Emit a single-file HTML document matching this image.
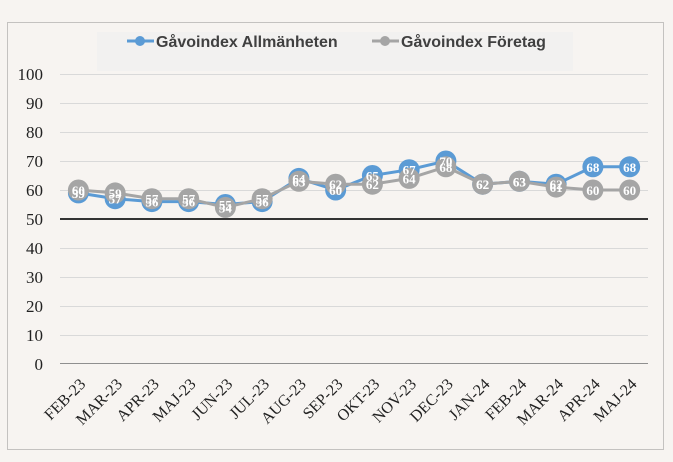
<!DOCTYPE html>
<html><head><meta charset="utf-8"><style>
html,body{margin:0;padding:0;background:#f7f4f1;}
svg{display:block}
</style></head><body>
<svg width="673" height="462" viewBox="0 0 673 462" xmlns="http://www.w3.org/2000/svg">
<rect x="0" y="0" width="673" height="462" fill="#f7f4f1"/>
<rect x="7.5" y="22.5" width="656" height="427" fill="#f7f4f1" stroke="#c4c2c0" stroke-width="1"/>
<rect x="97" y="32" width="476" height="39" fill="#f2f1f0"/>
<g font-family="Liberation Sans, sans-serif" font-weight="bold" font-size="16" fill="#404040">
<line x1="127" y1="41" x2="154" y2="41" stroke="#5b9bd5" stroke-width="3"/>
<circle cx="140" cy="41" r="5" fill="#5b9bd5"/>
<text x="156" y="47">Gåvoindex Allmänheten</text>
<line x1="372" y1="41" x2="399" y2="41" stroke="#a5a5a5" stroke-width="3"/>
<circle cx="385" cy="41" r="5" fill="#a5a5a5"/>
<text x="401" y="47">Gåvoindex Företag</text>
</g>
<g stroke="#d9d9d9" stroke-width="1">
<line x1="60" y1="74.5" x2="648" y2="74.5"/><line x1="60" y1="103.5" x2="648" y2="103.5"/>
<line x1="60" y1="132.5" x2="648" y2="132.5"/><line x1="60" y1="161.5" x2="648" y2="161.5"/>
<line x1="60" y1="190.5" x2="648" y2="190.5"/><line x1="60" y1="248.5" x2="648" y2="248.5"/>
<line x1="60" y1="277.5" x2="648" y2="277.5"/><line x1="60" y1="306.5" x2="648" y2="306.5"/>
<line x1="60" y1="335.5" x2="648" y2="335.5"/>
</g>
<line x1="60" y1="363.5" x2="648" y2="363.5" stroke="#8f8f8f" stroke-width="1"/>
<line x1="60" y1="219" x2="648" y2="219" stroke="#333" stroke-width="2"/>
<g font-family="Liberation Serif, serif" font-size="17" fill="#222" text-anchor="end">
<text x="43" y="80">100</text><text x="43" y="109">90</text><text x="43" y="138">80</text>
<text x="43" y="167">70</text><text x="43" y="196">60</text><text x="43" y="225">50</text>
<text x="43" y="254">40</text><text x="43" y="283">30</text><text x="43" y="312">20</text>
<text x="43" y="341">10</text><text x="43" y="370">0</text>
</g>
<polyline fill="none" stroke="#5b9bd5" stroke-width="3" points="78.4,192.9 115.15,198.7 151.9,201.6 188.65,201.6 225.4,204.5 262.15,201.6 298.9,178.4 335.65,190 372.4,175.5 409.15,169.7 445.9,161 482.65,184.2 519.4,181.3 556.15,184.2 592.9,166.8 629.65,166.8"/>
<g fill="#5b9bd5">
<circle cx="78.4" cy="192.9" r="10.5"/><circle cx="115.15" cy="198.7" r="10.5"/><circle cx="151.9" cy="201.6" r="10.5"/><circle cx="188.65" cy="201.6" r="10.5"/><circle cx="225.4" cy="204.5" r="10.5"/><circle cx="262.15" cy="201.6" r="10.5"/><circle cx="298.9" cy="178.4" r="10.5"/><circle cx="335.65" cy="190" r="10.5"/><circle cx="372.4" cy="175.5" r="10.5"/><circle cx="409.15" cy="169.7" r="10.5"/><circle cx="445.9" cy="161" r="10.5"/><circle cx="482.65" cy="184.2" r="10.5"/><circle cx="519.4" cy="181.3" r="10.5"/><circle cx="556.15" cy="184.2" r="10.5"/><circle cx="592.9" cy="166.8" r="10.5"/><circle cx="629.65" cy="166.8" r="10.5"/>
</g>
<polyline fill="none" stroke="#a5a5a5" stroke-width="3" points="78.4,190 115.15,192.9 151.9,198.7 188.65,198.7 225.4,207.4 262.15,198.7 298.9,181.3 335.65,184.2 372.4,184.2 409.15,178.4 445.9,166.8 482.65,184.2 519.4,181.3 556.15,187.1 592.9,190 629.65,190"/>
<g fill="#a5a5a5">
<circle cx="78.4" cy="190" r="10.5"/><circle cx="115.15" cy="192.9" r="10.5"/><circle cx="151.9" cy="198.7" r="10.5"/><circle cx="188.65" cy="198.7" r="10.5"/><circle cx="225.4" cy="207.4" r="10.5"/><circle cx="262.15" cy="198.7" r="10.5"/><circle cx="298.9" cy="181.3" r="10.5"/><circle cx="335.65" cy="184.2" r="10.5"/><circle cx="372.4" cy="184.2" r="10.5"/><circle cx="409.15" cy="178.4" r="10.5"/><circle cx="445.9" cy="166.8" r="10.5"/><circle cx="482.65" cy="184.2" r="10.5"/><circle cx="519.4" cy="181.3" r="10.5"/><circle cx="556.15" cy="187.1" r="10.5"/><circle cx="592.9" cy="190" r="10.5"/><circle cx="629.65" cy="190" r="10.5"/>
</g>
<g font-family="Liberation Serif, serif" font-weight="bold" font-size="13" fill="#fff" text-anchor="middle">
<text x="78.4" y="197.9">59</text><text x="115.15" y="203.7">57</text><text x="151.9" y="206.6">56</text><text x="188.65" y="206.6">56</text><text x="225.4" y="209.5">55</text><text x="262.15" y="206.6">56</text><text x="298.9" y="183.4">64</text><text x="335.65" y="195">60</text><text x="372.4" y="180.5">65</text><text x="409.15" y="174.7">67</text><text x="445.9" y="166">70</text><text x="482.65" y="189.2">62</text><text x="519.4" y="186.3">63</text><text x="556.15" y="189.2">62</text><text x="592.9" y="171.8">68</text><text x="629.65" y="171.8">68</text>
<text x="78.4" y="195">60</text><text x="115.15" y="197.9">59</text><text x="151.9" y="203.7">57</text><text x="188.65" y="203.7">57</text><text x="225.4" y="212.4">54</text><text x="262.15" y="203.7">57</text><text x="298.9" y="186.3">63</text><text x="335.65" y="189.2">62</text><text x="372.4" y="189.2">62</text><text x="409.15" y="183.4">64</text><text x="445.9" y="171.8">68</text><text x="482.65" y="189.2">62</text><text x="519.4" y="186.3">63</text><text x="556.15" y="192.1">61</text><text x="592.9" y="195">60</text><text x="629.65" y="195">60</text>
</g>
<g font-family="Liberation Serif, serif" font-size="16" fill="#222" text-anchor="end">
<text transform="translate(86.4,385) rotate(-45)">FEB-23</text>
<text transform="translate(123.15,385) rotate(-45)">MAR-23</text>
<text transform="translate(159.9,385) rotate(-45)">APR-23</text>
<text transform="translate(196.65,385) rotate(-45)">MAJ-23</text>
<text transform="translate(233.4,385) rotate(-45)">JUN-23</text>
<text transform="translate(270.15,385) rotate(-45)">JUL-23</text>
<text transform="translate(306.9,385) rotate(-45)">AUG-23</text>
<text transform="translate(343.65,385) rotate(-45)">SEP-23</text>
<text transform="translate(380.4,385) rotate(-45)">OKT-23</text>
<text transform="translate(417.15,385) rotate(-45)">NOV-23</text>
<text transform="translate(453.9,385) rotate(-45)">DEC-23</text>
<text transform="translate(490.65,385) rotate(-45)">JAN-24</text>
<text transform="translate(527.4,385) rotate(-45)">FEB-24</text>
<text transform="translate(564.15,385) rotate(-45)">MAR-24</text>
<text transform="translate(600.9,385) rotate(-45)">APR-24</text>
<text transform="translate(637.65,385) rotate(-45)">MAJ-24</text>
</g>
</svg>
</body></html>
